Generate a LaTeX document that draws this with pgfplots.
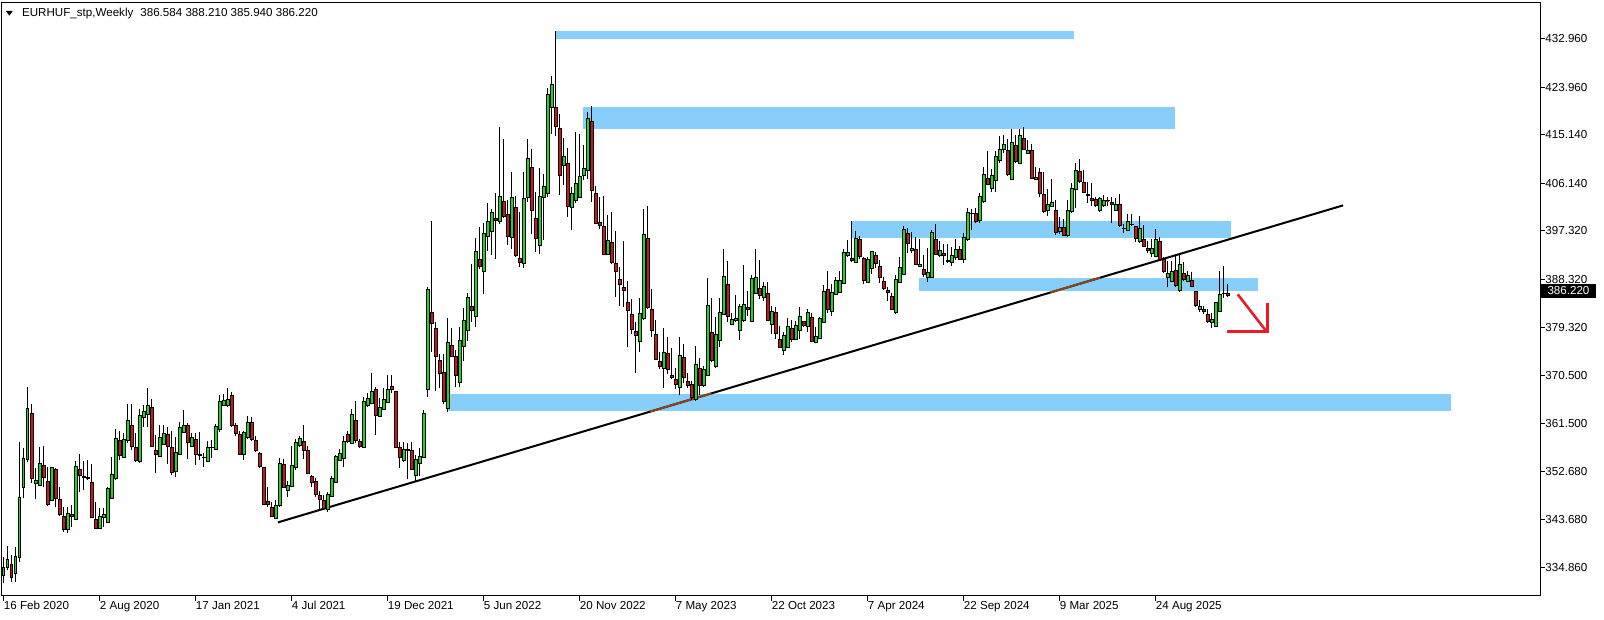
\documentclass[border=0pt]{standalone}
\usepackage{pgfplots}
\pgfplotsset{compat=1.18}
\usepackage{pgfplotstable}
\usepackage{fontspec}
\setmainfont{Liberation Sans}
\definecolor{bullgreen}{RGB}{25,220,25}
\definecolor{bearred}{RGB}{210,20,20}
\definecolor{zone}{RGB}{135,206,250}
\definecolor{tlbrown}{RGB}{140,70,20}
\definecolor{arrowred}{RGB}{235,28,36}
\pgfdeclareplotmark{blank}{}
\pgfplotstableread{
k o h l c
0 333.43 336.71 331.88 334.85
1 334.85 338.81 334.36 336.34
2 335.41 337.08 332.19 333.00
3 333.74 338.69 332.19 336.96
4 336.65 358.18 335.90 347.91
5 349.71 356.95 347.66 355.09
6 354.90 368.40 354.47 364.37
7 363.44 365.18 350.45 351.38
8 350.45 353.23 347.48 351.07
9 350.08 357.13 350.08 354.16
10 353.85 357.38 349.71 351.56
11 350.88 353.42 346.24 346.61
12 347.35 353.54 347.23 353.36
13 353.11 353.23 345.99 347.66
14 347.54 349.83 344.38 344.75
15 344.38 345.99 341.47 341.91
16 341.91 345.99 341.29 344.88
17 344.75 346.49 342.40 344.26
18 343.76 354.66 343.76 353.67
19 353.05 355.96 348.90 351.93
20 351.81 354.59 349.21 351.56
21 351.56 354.78 351.07 351.38
22 350.63 354.04 343.95 344.14
23 343.76 346.98 341.91 342.03
24 342.03 345.87 342.03 344.26
25 344.07 345.81 342.40 344.63
26 343.27 349.83 343.15 349.58
27 347.66 355.28 347.60 352.12
28 351.31 360.47 351.07 358.80
29 358.49 360.16 354.78 355.71
30 355.28 359.73 355.28 358.62
31 358.37 365.18 358.00 362.21
32 361.28 365.18 356.64 357.38
33 357.13 359.73 354.41 354.66
34 354.47 364.19 354.29 363.14
35 362.70 364.99 360.84 363.75
36 363.26 368.09 360.84 364.99
37 364.56 366.04 357.13 357.38
38 356.64 359.36 352.30 355.83
39 355.40 361.22 355.28 358.99
40 357.63 361.28 357.56 359.73
41 359.55 360.97 354.04 357.38
42 357.19 360.23 351.93 352.49
43 352.61 359.11 351.56 356.27
44 355.83 361.90 355.71 360.85
45 359.98 364.06 359.85 361.28
46 361.22 361.71 355.03 358.00
47 357.38 359.85 357.38 358.99
48 358.62 359.85 353.85 355.89
49 355.77 359.98 354.78 355.72
50 355.30 356.14 353.42 355.25
51 354.53 358.37 354.53 357.13
52 357.06 358.49 355.08 357.12
53 356.75 361.46 356.63 361.09
54 360.47 366.78 360.03 365.67
55 364.99 367.03 364.80 365.91
56 364.86 368.08 364.68 366.10
57 366.72 367.34 360.96 361.21
58 361.21 361.58 359.29 359.72
59 359.60 360.22 355.70 355.89
60 355.76 360.16 354.77 359.97
61 358.98 363.00 358.73 361.83
62 361.77 362.82 358.36 358.61
63 358.49 359.23 356.26 356.51
64 356.01 356.20 353.35 353.54
65 353.41 353.54 346.42 346.60
66 347.04 349.82 346.11 346.48
67 345.99 347.04 344.13 344.25
68 343.88 347.35 343.76 346.36
69 346.29 355.08 346.11 354.15
70 353.97 354.90 349.57 349.70
71 349.14 350.94 347.97 350.13
72 349.82 357.37 349.70 353.78
73 353.41 358.73 352.92 358.12
74 357.50 359.23 357.25 358.86
75 358.30 361.27 354.90 356.63
76 356.63 357.37 352.17 352.30
77 351.68 351.99 349.70 350.69
78 350.81 351.37 347.97 348.34
79 348.28 349.08 345.49 347.47
80 347.35 348.28 345.49 345.74
81 345.68 348.89 345.12 348.46
82 347.97 351.86 347.84 351.43
83 350.56 355.70 350.44 355.39
84 354.77 356.75 354.77 356.01
85 355.02 359.23 353.54 358.30
86 359.60 360.22 357.99 358.24
87 357.87 364.18 357.87 363.31
88 362.14 365.79 357.87 358.36
89 358.30 358.61 357.00 357.25
90 357.13 366.41 357.13 365.73
91 364.92 367.27 364.68 366.28
92 365.29 370.99 365.17 367.58
93 367.89 368.39 359.42 363.07
94 362.82 366.22 362.70 364.55
95 364.18 368.20 364.06 366.04
96 365.42 370.55 365.29 367.89
97 368.51 370.55 367.15 367.89
98 367.58 367.65 356.94 357.13
99 357.13 358.18 353.23 355.27
100 354.77 358.18 354.46 356.75
101 356.63 357.87 351.18 356.68
102 356.63 358.18 352.92 353.04
103 351.93 355.70 350.94 354.90
104 354.15 356.94 351.80 355.39
105 355.21 364.06 355.08 363.44
106 367.90 386.96 366.54 386.46
107 382.19 399.15 374.89 380.15
108 379.22 380.34 367.65 373.96
109 373.34 374.46 368.08 370.87
110 371.05 374.46 365.11 365.61
111 364.37 381.08 363.75 376.62
112 376.07 379.22 373.84 374.09
113 374.09 375.20 368.27 370.43
114 369.13 379.53 368.27 376.93
115 375.82 382.94 373.22 380.71
116 378.79 385.72 376.93 384.98
117 383.37 391.17 380.46 382.63
118 381.39 395.93 379.53 393.52
119 392.03 397.98 390.18 390.80
120 389.74 398.72 385.60 396.86
121 396.24 402.55 393.64 399.09
122 397.17 401.38 392.84 400.76
123 399.65 404.29 392.10 399.21
124 399.03 416.54 398.53 403.73
125 402.80 414.38 399.77 400.08
126 400.39 403.05 394.69 396.24
127 396.06 408.19 393.89 403.54
128 401.69 403.79 392.40 392.72
129 392.22 400.76 390.55 391.41
130 391.29 408.19 390.36 403.36
131 403.48 414.38 402.74 410.79
132 409.12 412.52 396.74 401.07
133 399.65 404.47 393.33 395.87
134 394.57 408.93 393.09 403.73
135 403.54 407.88 395.62 405.59
136 404.29 423.78 403.67 422.67
137 420.19 426.07 415.30 424.53
138 420.26 434.43 414.99 416.67
139 416.36 418.96 403.98 407.57
140 409.42 414.50 405.84 411.16
141 409.86 412.64 399.96 401.81
142 401.63 405.40 397.48 404.29
143 402.93 415.61 402.43 406.14
144 403.48 415.24 403.48 407.44
145 407.57 413.20 406.76 408.93
146 408.50 419.45 406.89 418.21
147 417.59 420.50 402.74 404.78
148 404.29 405.65 398.59 398.72
149 398.90 403.67 397.60 398.28
150 398.22 403.79 392.84 393.02
151 393.02 400.26 392.84 395.62
152 395.25 400.76 391.16 391.41
153 391.29 397.29 384.98 389.74
154 388.38 390.54 383.37 387.33
155 386.89 395.43 383.12 386.21
156 384.05 388.01 375.82 382.50
157 381.82 384.67 378.17 379.03
158 378.72 380.33 370.99 377.86
159 376.74 384.85 374.89 382.07
160 381.01 401.38 380.77 396.67
161 395.93 401.93 382.75 383.06
162 382.75 386.52 377.67 378.79
163 378.11 380.77 373.34 373.46
164 373.15 374.89 371.61 372.10
165 371.73 379.34 368.08 374.76
166 374.58 377.55 370.74 371.61
167 370.55 375.51 369.75 370.06
168 369.75 371.79 367.96 368.88
169 368.26 377.67 366.84 374.21
170 373.84 376.25 369.13 370.06
171 369.44 370.99 368.20 368.64
172 368.82 369.44 365.90 366.41
173 366.10 375.94 365.70 372.54
174 371.79 373.65 366.84 368.57
175 368.57 372.23 368.39 371.61
176 370.55 388.63 370.43 383.55
177 378.48 384.79 373.03 373.22
178 372.10 381.39 371.92 378.11
179 376.93 384.79 375.69 382.19
180 381.88 393.95 381.76 388.94
181 387.39 391.78 380.46 381.51
182 379.90 382.13 379.84 380.96
183 380.65 385.41 380.46 381.08
184 378.85 383.74 377.06 383.31
185 380.65 390.98 380.46 383.68
186 383.18 386.22 381.51 382.69
187 380.52 389.06 380.52 388.51
188 385.72 393.89 385.60 388.69
189 386.71 391.91 384.67 385.35
190 384.98 387.89 384.30 387.02
191 385.72 387.89 380.65 380.65
192 379.90 383.37 378.17 382.44
193 382.19 383.25 377.18 378.29
194 377.18 379.66 375.51 375.69
195 375.20 378.60 374.27 377.98
196 375.69 381.08 375.51 379.66
197 379.22 380.77 376.75 377.18
198 377.18 380.65 377.06 379.78
199 378.79 383.12 377.18 381.51
200 380.58 380.65 379.53 379.72
201 379.53 382.75 378.60 382.19
202 381.26 382.01 376.62 376.81
203 376.62 379.41 376.44 377.80
204 377.37 381.26 377.24 381.14
205 380.40 387.27 380.27 386.09
206 386.46 389.93 382.13 382.75
207 382.38 387.45 381.57 385.91
208 385.60 388.82 385.41 388.20
209 385.91 389.93 385.72 388.14
210 387.52 393.89 387.39 393.33
211 392.71 395.62 392.53 393.33
212 392.22 399.15 391.60 391.79
213 391.54 397.36 391.42 395.93
214 395.75 396.37 392.03 392.53
215 392.22 392.53 387.45 388.20
216 387.70 392.41 387.58 392.10
217 390.36 393.64 389.31 393.58
218 392.84 393.46 390.36 391.29
219 390.80 391.91 387.58 388.69
220 388.01 388.82 386.34 386.71
221 386.34 386.84 384.36 385.91
222 385.23 385.84 382.63 382.75
223 382.19 389.06 381.82 388.32
224 387.70 392.53 387.58 390.55
225 389.31 398.22 389.13 397.67
226 396.86 397.79 393.15 395.00
227 393.64 397.17 393.27 394.08
228 393.89 396.24 390.98 391.17
229 390.67 395.75 390.67 391.17
230 390.18 392.84 388.82 389.31
231 388.69 394.08 387.89 389.62
232 388.69 397.48 388.69 397.05
233 395.75 398.59 392.84 393.02
234 392.71 395.44 392.53 393.70
235 393.15 394.88 390.98 392.71
236 391.79 394.82 391.29 391.75
237 391.42 394.39 390.80 392.71
238 392.41 395.87 391.91 393.89
239 393.89 394.51 391.91 392.10
240 392.10 396.86 391.42 396.12
241 395.81 401.50 395.50 400.76
242 400.51 401.38 397.48 400.55
243 400.51 401.50 398.84 399.15
244 399.21 404.29 398.84 403.79
245 402.74 409.12 402.56 407.88
246 407.07 412.15 405.77 405.96
247 405.28 408.87 404.54 407.63
248 406.64 412.09 404.60 411.22
249 410.35 414.93 409.98 412.46
250 412.46 415.18 411.71 413.45
251 412.33 414.31 407.57 407.82
252 406.89 416.17 406.76 413.82
253 413.20 415.18 409.98 410.17
254 409.86 416.17 409.73 415.12
255 414.50 416.67 412.33 412.46
256 411.71 414.19 411.59 412.27
257 412.33 413.45 406.89 407.07
258 406.89 409.24 406.76 407.32
259 408.25 408.93 403.55 404.29
260 404.16 408.19 400.70 400.88
261 401.07 405.03 400.08 402.31
262 401.81 406.89 401.69 402.68
263 401.19 403.05 396.55 396.99
264 397.17 399.96 396.74 397.98
265 397.98 399.46 396.37 396.55
266 396.49 403.05 396.24 401.07
267 400.88 406.27 400.70 405.22
268 405.03 409.98 401.50 408.50
269 408.31 410.60 406.14 406.45
270 406.33 408.62 404.29 404.41
271 404.16 406.45 402.43 403.85
272 403.36 406.27 401.94 403.05
273 403.17 403.67 401.81 402.00
274 401.07 403.67 400.88 403.36
275 402.06 403.98 401.81 402.93
276 402.93 403.55 402.00 402.90
277 402.55 403.67 398.84 402.31
278 401.19 403.48 401.07 402.25
279 402.31 404.16 397.98 398.28
280 397.80 398.59 396.86 397.73
281 397.48 400.45 397.36 399.09
282 398.53 400.45 398.22 398.56
283 398.10 398.22 395.31 395.87
284 395.31 400.08 395.13 397.79
285 395.75 398.35 394.26 394.39
286 394.08 395.44 393.27 393.64
287 393.15 395.75 392.53 394.08
288 392.53 397.60 392.41 395.75
289 395.44 396.12 391.79 392.10
290 392.03 392.41 389.56 389.74
291 388.69 391.79 386.84 389.43
292 387.89 391.72 387.76 389.87
293 390.05 392.84 386.96 387.21
294 386.22 393.27 386.03 391.11
295 389.43 391.60 388.07 388.32
296 387.89 389.81 387.76 389.13
297 388.20 389.74 386.84 386.96
298 386.15 386.22 383.25 383.43
299 382.75 384.48 382.19 383.37
300 382.81 383.43 381.88 382.31
301 381.88 382.75 380.15 380.46
302 380.27 382.01 379.22 380.96
303 379.53 384.17 379.41 384.05
304 382.31 389.87 382.19 385.53
305 385.72 390.85 384.91 385.65
306 385.78 387.45 385.10 385.36
}\candles
\pgfplotstableread{
x y
68.6 343.19
334.9 402.05
}\trend
\begin{document}
\begin{tikzpicture}
\begin{axis}[
  x=2pt, y=2.693pt,
  xmin=-0.375, xmax=384.125,
  ymin=329.525, ymax=439.625,
  axis line style={black, line width=0.5pt},
  tick style={black, line width=0.5pt},
  tick align=outside,
  major tick length=2.5pt,
  xtick pos=left, ytick pos=right,
  xticklabel pos=left, yticklabel pos=right,
  xtick={0,24,48,72,96,120,144,168,192,216,240,264,288},
  xticklabels={16 Feb 2020,2 Aug 2020,17 Jan 2021,4 Jul 2021,19 Dec 2021,5 Jun 2022,20 Nov 2022,7 May 2023,22 Oct 2023,7 Apr 2024,22 Sep 2024,9 Mar 2025,24 Aug 2025},
  ytick={334.86,343.68,352.68,361.5,370.5,379.32,388.32,397.32,406.14,415.14,423.96,432.96},
  yticklabels={334.860,343.680,352.680,361.500,370.500,379.320,388.320,397.320,406.140,415.140,423.960,432.960},
  tick label style={font=\fontsize{5.8}{7}\selectfont, inner sep=0pt},
  xticklabel style={anchor=north west},
  yticklabel style={anchor=west},
]
% zones
\addplot[draw=none, fill=zone] coordinates {(138.1,432.94) (267.6,432.94) (267.6,434.43) (138.1,434.43)};
\addplot[draw=none, fill=zone] coordinates {(144.9,416.23) (292.75,416.23) (292.75,420.32) (144.9,420.32)};
\addplot[draw=none, fill=zone] coordinates {(212.1,395.99) (306.9,395.99) (306.9,399.15) (212.1,399.15)};
\addplot[draw=none, fill=zone] coordinates {(228.9,386.21) (313.6,386.21) (313.6,388.57) (228.9,388.57)};
\addplot[draw=none, fill=zone] coordinates {(111.1,363.93) (361.9,363.93) (361.9,367.03) (111.1,367.03)};
% candles
\addplot[scatter, only marks, mark=blank, point meta=y,
  visualization depends on={\thisrow{o} \as \cdlO},
  visualization depends on={\thisrow{h} \as \cdlH},
  visualization depends on={\thisrow{l} \as \cdlL},
  visualization depends on={\thisrow{c} \as \cdlC},
  scatter/@pre marker code/.code={%
    \pgfmathsetmacro\cdlWick{(\cdlH-\cdlL)*2.693}%
    \pgfmathsetmacro\cdlLo{(min(\cdlO,\cdlC)-\cdlL)*2.693}%
    \pgfmathsetmacro\cdlBh{abs(\cdlC-\cdlO)*2.693}%
    \pgfmathsetmacro\cdlUp{\cdlC>=\cdlO ? 1 : 0}%
    \begin{pgfscope}%
    \pgfsetlinewidth{0.5pt}\pgfsetstrokecolor{black}%
    \pgfpathmoveto{\pgfqpoint{0pt}{0pt}}%
    \pgfpathlineto{\pgfpoint{0pt}{\cdlWick pt}}%
    \pgfusepath{stroke}%
    \ifdim\cdlUp pt<0.5pt\relax\pgfsetfillcolor{bearred}\else\pgfsetfillcolor{bullgreen}\fi
    \pgfsetlinewidth{0.3pt}%
    \pgfpathrectangle{\pgfpoint{-0.65pt}{\cdlLo pt}}{\pgfpoint{1.3pt}{\cdlBh pt}}%
    \pgfusepath{fill,stroke}%
    \end{pgfscope}%
  },
  scatter/@post marker code/.code={},
] table[x=k,y=l] {\candles};
% trend line
\addplot[black, line width=1pt] table[x=x,y=y] {\trend};
\addplot[tlbrown, line width=1pt] coordinates {(161.6,363.75) (177,367.15)};
\addplot[tlbrown, line width=1pt] coordinates {(261.6,385.85) (274.1,388.61)};
% arrow
\addplot[arrowred, line width=1.3pt] coordinates {(308.55,385.54) (315.75,378.63)};
\addplot[arrowred, line width=1.2pt] coordinates {(305.95,378.63) (315.95,378.63) (315.95,383.87)};
\coordinate (curp) at (axis cs:384.125,386.22);
\end{axis}
\node[fill=black, text=white, anchor=west, inner xsep=3.3pt, inner ysep=1.4pt, font=\fontsize{5.8}{7}\selectfont] at ([xshift=0.25pt]curp) {386.220};
\fill ([xshift=2pt,yshift=-4pt]current axis.north west) -- ([xshift=5.35pt,yshift=-4pt]current axis.north west) -- ([xshift=3.675pt,yshift=-6.35pt]current axis.north west) -- cycle;
\node[anchor=west, inner sep=0pt, font=\fontsize{5.8}{7}\selectfont] at ([xshift=9.85pt,yshift=-5.15pt]current axis.north west) {EURHUF\_stp,Weekly\hspace{3.5pt}386.584 388.210 385.940 386.220};
\pgfresetboundingbox
\path ([xshift=-1pt,yshift=-12pt]current axis.south west) rectangle ([xshift=32pt,yshift=1.5pt]current axis.north east);
\end{tikzpicture}
\end{document}
